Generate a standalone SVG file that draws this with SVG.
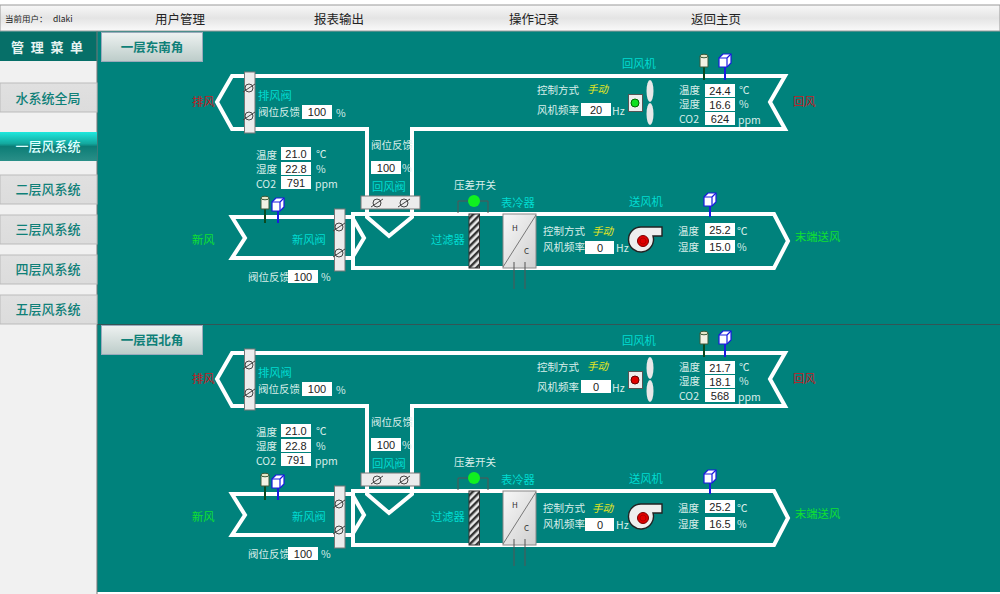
<svg xmlns="http://www.w3.org/2000/svg" xmlns:xlink="http://www.w3.org/1999/xlink" width="1000" height="594" viewBox="0 0 1000 594">
<style>
text{font-family:"Noto Sans CJK SC","Liberation Sans",sans-serif;font-size:10.500px;fill:#d8eeea}
.n{fill:#00dcd2;font-size:11.300px}
.m{font-size:12.500px;fill:#222;text-anchor:middle}
.s{font-size:13px;fill:#0f8078;text-anchor:middle;font-weight:500}
.t{font-size:12.500px;fill:#0f8078;text-anchor:middle;font-weight:700}
.r{fill:#c8181c;font-size:11.300px}
.g{fill:#10e030;font-size:11.300px}
.y{fill:#e8e820;font-style:italic;font-size:10.500px}
.v{fill:#222;text-anchor:middle;font-family:"Liberation Sans",sans-serif;font-size:11px}
.b{fill:#fff}
.d{fill:none;stroke:#fff;stroke-width:4;stroke-linejoin:miter}
.vb{fill:#ececec;stroke:#777;stroke-width:1}
.w{fill:none;stroke:#555;stroke-width:1}
</style>
<defs>
<linearGradient id="bar" x1="0" y1="0" x2="0" y2="1"><stop offset="0" stop-color="#f8f8f8"/><stop offset=".5" stop-color="#e4e4e4"/><stop offset="1" stop-color="#fafafa"/></linearGradient>
<linearGradient id="btn" x1="0" y1="0" x2="0" y2="1"><stop offset="0" stop-color="#e0e0e0"/><stop offset="1" stop-color="#dcdcdc"/></linearGradient>
<linearGradient id="act" x1="0" y1="0" x2="0" y2="1"><stop offset="0" stop-color="#1fe8de"/><stop offset=".4" stop-color="#13a89e"/><stop offset=".5" stop-color="#0c7d76"/><stop offset="1" stop-color="#2a8f88"/></linearGradient>
<linearGradient id="tab" x1="0" y1="0" x2="0" y2="1"><stop offset="0" stop-color="#eef2f1"/><stop offset="1" stop-color="#bcccc9"/></linearGradient>
<linearGradient id="coil" x1="0" y1="0" x2="1" y2="1"><stop offset="0" stop-color="#f8f8f8"/><stop offset="1" stop-color="#cfcfcf"/></linearGradient>
<pattern id="hatch" width="5" height="5" patternUnits="userSpaceOnUse" patternTransform="rotate(-45)"><rect width="5" height="5" fill="#e8e8e8"/><rect width="5" height="2.400" fill="#333"/></pattern>
<g id="dmp"><circle r="4" fill="none" stroke="#444"/><path d="M-6 4L6-4" stroke="#444" fill="none"/></g>
<g id="cyl"><path d="M-4-5V6H4V-5" fill="#f2f2e4" stroke="#3a5a3a"/><ellipse cy="-5" rx="4" ry="1.800" fill="#e6e6c8" stroke="#3a5a3a"/></g>
<g id="cube"><path d="M-6-2L-2-6H6V3L2 7H-6Z" fill="#fff" stroke="#1a1ae0" stroke-width="1.200"/><path d="M-6-2H2V7M2-2L6-6" fill="none" stroke="#1a1ae0" stroke-width="1.200"/></g>
<g id="blower"><path d="M-1-14H19V-5H10A12.500 12.500 0 1 1-1-14Z" fill="#eee" stroke="#222" stroke-width="1.400"/><circle r="5.500" fill="#e00000" stroke="#700"/><circle r="3" fill="#e00000" stroke="#900" stroke-width=".6"/></g>
</defs>

<rect width="1000" height="594" fill="#00827c"/>
<rect width="1000" height="5" fill="#fff"/>
<rect x="0" y="5" width="1000" height="26" fill="url(#bar)" stroke="#999"/>
<rect x="0" y="592" width="1000" height="2" fill="#fff"/>
<rect x="0" y="60" width="97" height="534" fill="#f1f1f1"/>
<rect x="0" y="32" width="97" height="29" fill="#066f68"/>
<line x1="97" y1="31" x2="97" y2="594" stroke="#777"/>
<line x1="97" y1="324.500" x2="1000" y2="324.500" stroke="#355"/>

<g id="topbar">
<text x="5" y="22" style="font-size:8.500px;fill:#222">当前用户：</text><text x="53" y="22" style="font-size:8.500px;fill:#222">dlaki</text>
<text class="m" x="180" y="24">用户管理</text>
<text class="m" x="339" y="24">报表输出</text>
<text class="m" x="534" y="24">操作记录</text>
<text class="m" x="716" y="24">返回主页</text>
</g>
<g id="menu">
<text x="11" y="52" style="font-size:13px;fill:#e8f4f2;font-weight:700;letter-spacing:6.700px">管理菜单</text>
<g id="m1"><rect y="83" width="97" height="29" fill="url(#btn)" stroke="#bbb"/><text class="s" x="48" y="103">水系统全局</text></g>
<g id="m2"><rect y="132" width="97" height="29" fill="url(#act)"/><text class="s" x="48" y="151" style="fill:#dff">一层风系统</text></g>
<g id="m3"><rect y="175" width="97" height="29" fill="url(#btn)" stroke="#bbb"/><text class="s" x="48" y="194">二层风系统</text></g>
<g id="m4"><rect y="215" width="97" height="29" fill="url(#btn)" stroke="#bbb"/><text class="s" x="48" y="234">三层风系统</text></g>
<g id="m5"><rect y="255" width="97" height="29" fill="url(#btn)" stroke="#bbb"/><text class="s" x="48" y="274">四层风系统</text></g>
<g id="m6"><rect y="295" width="97" height="29" fill="url(#btn)" stroke="#bbb"/><text class="s" x="48" y="314">五层风系统</text></g>
</g>

<g id="connectors">
<g id="ducts-1">
<path class="d" d="M367 213V129H232L217 102L232 76H785L770 102L785 129H412V213"/>
<path class="d" d="M334 217H232L245 238L232 258H334M345 217H352L364 238L352 258H345"/>
<path class="d" d="M353 214H774L788 241L774 268H353Z"/>
<path class="d" d="M367 209V217L389 236L412 217V209"/>
</g>
<g id="ducts-2" transform="translate(0,277)">
<path class="d" d="M367 213V129H232L217 102L232 76H785L770 102L785 129H412V213"/>
<path class="d" d="M334 217H232L245 238L232 258H334M345 217H352L364 238L352 258H345"/>
<path class="d" d="M353 214H774L788 241L774 268H353Z"/>
<path class="d" d="M367 209V217L389 236L412 217V209"/>
</g>
</g>

<g id="panel-1">
<g id="tab-1"><rect x="101.500" y="32.500" width="101" height="29" fill="url(#tab)" stroke="#9ab"/><text class="t" x="152" y="52">一层东南角</text></g>
<g id="exhaust-1"><text class="r" x="192" y="106">排风</text></g>
<g id="return-1"><text class="r" x="793" y="106">回风</text></g>
<g id="fresh-1"><text class="g" x="192" y="244">新风</text></g>
<g id="supply-1"><text class="g" x="795" y="241">末端送风</text></g>
<g id="ex-valve-1"><rect class="vb" x="244.500" y="72" width="10.500" height="61"/><use xlink:href="#dmp" href="#dmp" x="249" y="88"/><use xlink:href="#dmp" href="#dmp" x="249" y="116"/>
<text class="n" x="258" y="100">排风阀</text><text x="258" y="116">阀位反馈</text><rect class="b" x="302" y="105" width="30" height="14"/><text class="v" x="317" y="116">100</text><text x="336" y="117">%</text></g>
<g id="ret-valve-1"><rect class="vb" x="361" y="196" width="59" height="13"/><use xlink:href="#dmp" href="#dmp" x="377" y="203"/><use xlink:href="#dmp" href="#dmp" x="404" y="203"/>
<text x="371" y="149">阀位反馈</text><rect class="b" x="371" y="161" width="30" height="13"/><text class="v" x="386" y="172">100</text><text x="402" y="172">%</text><text class="n" x="372" y="191">回风阀</text></g>
<g id="fr-valve-1"><rect class="vb" x="334.500" y="209" width="10.500" height="62"/><use xlink:href="#dmp" href="#dmp" x="339" y="227"/><use xlink:href="#dmp" href="#dmp" x="339" y="253"/>
<text class="n" x="292" y="244">新风阀</text><text x="248" y="281">阀位反馈</text><rect class="b" x="288" y="270" width="30" height="13"/><text class="v" x="303" y="281">100</text><text x="321" y="281">%</text></g>
<g id="fr-sensor-1"><text x="256" y="159">温度</text><text x="256" y="173">湿度</text><text x="256" y="188">CO2</text>
<rect class="b" x="281" y="147" width="30" height="13"/><rect class="b" x="281" y="162" width="30" height="13"/><rect class="b" x="281" y="176" width="30" height="13"/>
<text class="v" x="296" y="158">21.0</text><text class="v" x="296" y="173">22.8</text><text class="v" x="296" y="187">791</text>
<text x="316" y="158">℃</text><text x="316" y="173">%</text><text x="315" y="188">ppm</text>
<line x1="265" y1="208" x2="265" y2="223" stroke="#0a4a20" stroke-width="2"/><line x1="278" y1="206" x2="278" y2="223" stroke="#1a1ae0" stroke-width="2"/><use xlink:href="#cyl" href="#cyl" x="265" y="203"/><use xlink:href="#cube" href="#cube" x="278" y="204"/></g>
<g id="filter-1"><rect x="469" y="214" width="10.500" height="54" fill="url(#hatch)" stroke="#333"/><text class="n" x="431" y="244">过滤器</text>
<path class="w" d="M458 213V201H488V213"/><circle cx="474" cy="201" r="6" fill="#10f020"/><text x="454" y="189">压差开关</text></g>
<g id="coil-1"><rect x="503" y="214" width="33" height="54" fill="url(#coil)" stroke="#888"/><path d="M503 267L536 215" stroke="#777"/><text x="512" y="231" style="font-size:8px;fill:#333">H</text><text x="524" y="254" style="font-size:8px;fill:#333">C</text><path class="w" d="M514 262V289M525 262V289"/><text class="n" x="501" y="207">表冷器</text></g>
<g id="sup-fan-1"><text class="n" x="629" y="206">送风机</text><text x="543" y="235">控制方式</text><text class="y" x="592" y="235">手动</text><text x="543" y="251">风机频率</text><rect class="b" x="585" y="241" width="29" height="13"/><text class="v" x="600" y="252">0</text><text x="616" y="252">Hz</text><use xlink:href="#blower" href="#blower" x="643" y="241"/></g>
<g id="sup-sensor-1"><text x="678" y="235">温度</text><text x="678" y="251">湿度</text><rect class="b" x="705" y="223" width="30" height="13"/><rect class="b" x="705" y="240" width="30" height="13"/><text class="v" x="720" y="234">25.2</text><text class="v" x="720" y="251">15.0</text><text x="737" y="235">℃</text><text x="737" y="251">%</text><line x1="710" y1="204" x2="710" y2="217" stroke="#1a1ae0" stroke-width="2"/><use xlink:href="#cube" href="#cube" x="710" y="199"/></g>
<g id="ret-fan-1"><text class="n" x="622" y="68">回风机</text><text x="537" y="94">控制方式</text><text class="y" x="587" y="93">手动</text><text x="537" y="114">风机频率</text><rect class="b" x="581" y="103" width="30" height="13"/><text class="v" x="596" y="114">20</text><text x="612" y="115">Hz</text>
<rect x="628.500" y="94.500" width="14" height="17" fill="#eee" stroke="#555"/><circle cx="635" cy="103" r="4" fill="#10e020" stroke="#060"/><ellipse cx="650" cy="91" rx="3.500" ry="11" fill="#e8e8e8"/><ellipse cx="650" cy="114" rx="3.500" ry="11" fill="#e8e8e8"/></g>
<g id="ret-sensor-1"><text x="679" y="94">温度</text><text x="679" y="108">湿度</text><text x="679" y="123">CO2</text><rect class="b" x="705" y="84" width="30" height="13"/><rect class="b" x="705" y="98" width="30" height="13"/><rect class="b" x="705" y="112" width="30" height="13"/><text class="v" x="720" y="95">24.4</text><text class="v" x="720" y="109">16.6</text><text class="v" x="720" y="123">624</text><text x="739" y="94">℃</text><text x="739" y="108">%</text><text x="738" y="124">ppm</text>
<line x1="704" y1="66" x2="704" y2="80" stroke="#0a4a20" stroke-width="2"/><line x1="725" y1="64" x2="725" y2="80" stroke="#1a1ae0" stroke-width="2"/><use xlink:href="#cyl" href="#cyl" x="704" y="61"/><use xlink:href="#cube" href="#cube" x="725" y="60"/></g>
</g>

<g id="panel-2" transform="translate(0,277)">
<g id="tab-2"><rect x="101.500" y="48.500" width="101" height="29" fill="url(#tab)" stroke="#9ab"/><text class="t" x="152" y="68">一层西北角</text></g>
<g id="exhaust-2"><text class="r" x="192" y="106">排风</text></g>
<g id="return-2"><text class="r" x="793" y="106">回风</text></g>
<g id="fresh-2"><text class="g" x="192" y="244">新风</text></g>
<g id="supply-2"><text class="g" x="795" y="241">末端送风</text></g>
<g id="ex-valve-2"><rect class="vb" x="244.500" y="72" width="10.500" height="61"/><use xlink:href="#dmp" href="#dmp" x="249" y="88"/><use xlink:href="#dmp" href="#dmp" x="249" y="116"/>
<text class="n" x="258" y="100">排风阀</text><text x="258" y="116">阀位反馈</text><rect class="b" x="302" y="105" width="30" height="14"/><text class="v" x="317" y="116">100</text><text x="336" y="117">%</text></g>
<g id="ret-valve-2"><rect class="vb" x="361" y="196" width="59" height="13"/><use xlink:href="#dmp" href="#dmp" x="377" y="203"/><use xlink:href="#dmp" href="#dmp" x="404" y="203"/>
<text x="371" y="149">阀位反馈</text><rect class="b" x="371" y="161" width="30" height="13"/><text class="v" x="386" y="172">100</text><text x="402" y="172">%</text><text class="n" x="372" y="191">回风阀</text></g>
<g id="fr-valve-2"><rect class="vb" x="334.500" y="209" width="10.500" height="62"/><use xlink:href="#dmp" href="#dmp" x="339" y="227"/><use xlink:href="#dmp" href="#dmp" x="339" y="253"/>
<text class="n" x="292" y="244">新风阀</text><text x="248" y="281">阀位反馈</text><rect class="b" x="288" y="270" width="30" height="13"/><text class="v" x="303" y="281">100</text><text x="321" y="281">%</text></g>
<g id="fr-sensor-2"><text x="256" y="159">温度</text><text x="256" y="173">湿度</text><text x="256" y="188">CO2</text>
<rect class="b" x="281" y="147" width="30" height="13"/><rect class="b" x="281" y="162" width="30" height="13"/><rect class="b" x="281" y="176" width="30" height="13"/>
<text class="v" x="296" y="158">21.0</text><text class="v" x="296" y="173">22.8</text><text class="v" x="296" y="187">791</text>
<text x="316" y="158">℃</text><text x="316" y="173">%</text><text x="315" y="188">ppm</text>
<line x1="265" y1="208" x2="265" y2="223" stroke="#0a4a20" stroke-width="2"/><line x1="278" y1="206" x2="278" y2="223" stroke="#1a1ae0" stroke-width="2"/><use xlink:href="#cyl" href="#cyl" x="265" y="203"/><use xlink:href="#cube" href="#cube" x="278" y="204"/></g>
<g id="filter-2"><rect x="469" y="214" width="10.500" height="54" fill="url(#hatch)" stroke="#333"/><text class="n" x="431" y="244">过滤器</text>
<path class="w" d="M458 213V201H488V213"/><circle cx="474" cy="201" r="6" fill="#10f020"/><text x="454" y="189">压差开关</text></g>
<g id="coil-2"><rect x="503" y="214" width="33" height="54" fill="url(#coil)" stroke="#888"/><path d="M503 267L536 215" stroke="#777"/><text x="512" y="231" style="font-size:8px;fill:#333">H</text><text x="524" y="254" style="font-size:8px;fill:#333">C</text><path class="w" d="M514 262V289M525 262V289"/><text class="n" x="501" y="207">表冷器</text></g>
<g id="sup-fan-2"><text class="n" x="629" y="206">送风机</text><text x="543" y="235">控制方式</text><text class="y" x="592" y="235">手动</text><text x="543" y="251">风机频率</text><rect class="b" x="585" y="241" width="29" height="13"/><text class="v" x="600" y="252">0</text><text x="616" y="252">Hz</text><use xlink:href="#blower" href="#blower" x="643" y="241"/></g>
<g id="sup-sensor-2"><text x="678" y="235">温度</text><text x="678" y="251">湿度</text><rect class="b" x="705" y="223" width="30" height="13"/><rect class="b" x="705" y="240" width="30" height="13"/><text class="v" x="720" y="234">25.2</text><text class="v" x="720" y="251">16.5</text><text x="737" y="235">℃</text><text x="737" y="251">%</text><line x1="710" y1="204" x2="710" y2="217" stroke="#1a1ae0" stroke-width="2"/><use xlink:href="#cube" href="#cube" x="710" y="199"/></g>
<g id="ret-fan-2"><text class="n" x="622" y="68">回风机</text><text x="537" y="94">控制方式</text><text class="y" x="587" y="93">手动</text><text x="537" y="114">风机频率</text><rect class="b" x="581" y="103" width="30" height="13"/><text class="v" x="596" y="114">0</text><text x="612" y="115">Hz</text>
<rect x="628.500" y="94.500" width="14" height="17" fill="#eee" stroke="#555"/><circle cx="635" cy="103" r="4" fill="#e00000" stroke="#600"/><ellipse cx="650" cy="91" rx="3.500" ry="11" fill="#e8e8e8"/><ellipse cx="650" cy="114" rx="3.500" ry="11" fill="#e8e8e8"/></g>
<g id="ret-sensor-2"><text x="679" y="94">温度</text><text x="679" y="108">湿度</text><text x="679" y="123">CO2</text><rect class="b" x="705" y="84" width="30" height="13"/><rect class="b" x="705" y="98" width="30" height="13"/><rect class="b" x="705" y="112" width="30" height="13"/><text class="v" x="720" y="95">21.7</text><text class="v" x="720" y="109">18.1</text><text class="v" x="720" y="123">568</text><text x="739" y="94">℃</text><text x="739" y="108">%</text><text x="738" y="124">ppm</text>
<line x1="704" y1="66" x2="704" y2="80" stroke="#0a4a20" stroke-width="2"/><line x1="725" y1="64" x2="725" y2="80" stroke="#1a1ae0" stroke-width="2"/><use xlink:href="#cyl" href="#cyl" x="704" y="61"/><use xlink:href="#cube" href="#cube" x="725" y="60"/></g>
</g>
</svg>
